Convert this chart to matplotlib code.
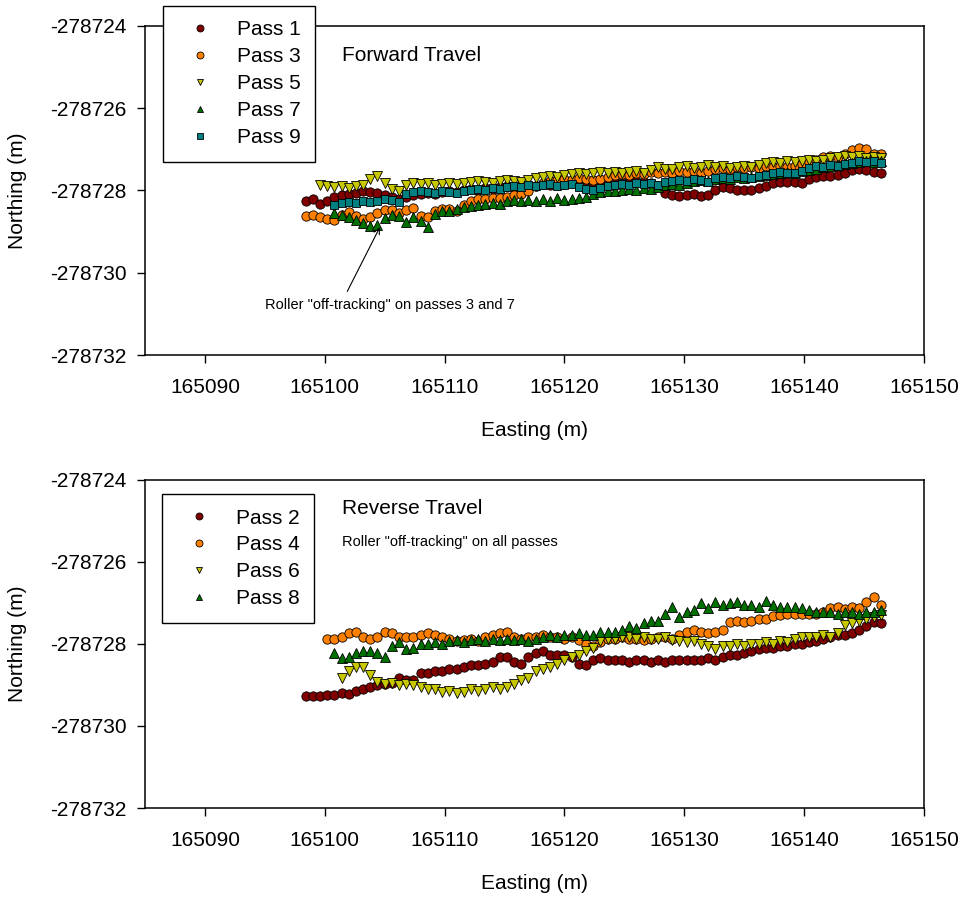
import numpy as np
import matplotlib.pyplot as plt
from matplotlib.ticker import FormatStrFormatter

plt.rcParams['font.family'] = ['Liberation Sans', 'DejaVu Sans']
plt.rcParams['axes.unicode_minus'] = False

# easting sample positions (m), shared by all passes
east = [165098.4, 165099.0, 165099.6, 165100.2, 165100.8, 165101.4, 165102.0, 165102.6, 165103.2, 165103.8,
        165104.4, 165105.0, 165105.6, 165106.2, 165106.8, 165107.4, 165108.0, 165108.6, 165109.2, 165109.8,
        165110.4, 165111.0, 165111.6, 165112.2, 165112.8, 165113.4, 165114.0, 165114.6, 165115.2, 165115.8,
        165116.4, 165117.0, 165117.6, 165118.2, 165118.8, 165119.4, 165120.0, 165120.6, 165121.2, 165121.8,
        165122.4, 165123.0, 165123.6, 165124.2, 165124.8, 165125.4, 165126.0, 165126.6, 165127.2, 165127.8,
        165128.4, 165129.0, 165129.6, 165130.2, 165130.8, 165131.4, 165132.0, 165132.6, 165133.2, 165133.8,
        165134.4, 165135.0, 165135.6, 165136.2, 165136.8, 165137.4, 165138.0, 165138.6, 165139.2, 165139.8,
        165140.4, 165141.0, 165141.6, 165142.2, 165142.8, 165143.4, 165144.0, 165144.6, 165145.2, 165145.8,
        165146.4]

# ---- forward travel (northing, m) ----
pass1_start = 0
pass1 = [-278728.26, -278728.21, -278728.33, -278728.26, -278728.16, -278728.11, -278728.09, -278728.06, -278728.01, -278728.04,
         -278728.06, -278728.11, -278728.16, -278728.21, -278728.16, -278728.11, -278728.09, -278728.06, -278728.09, -278728.04,
         -278728.01, -278728.04, -278727.99, -278727.96, -278727.99, -278727.94, -278727.96, -278727.91, -278727.89, -278727.91,
         -278727.89, -278727.87, -278727.89, -278727.84, -278727.87, -278727.82, -278727.84, -278727.82, -278727.87, -278727.89,
         -278727.87, -278727.84, -278727.82, -278727.79, -278727.82, -278727.79, -278727.77, -278727.79, -278727.82, -278727.89,
         -278728.06, -278728.11, -278728.13, -278728.11, -278728.09, -278728.13, -278728.11, -278727.99, -278727.91, -278727.94,
         -278727.99, -278727.99, -278727.99, -278727.94, -278727.89, -278727.82, -278727.79, -278727.79, -278727.79, -278727.82,
         -278727.72, -278727.67, -278727.65, -278727.65, -278727.62, -278727.57, -278727.50, -278727.47, -278727.50, -278727.55,
         -278727.57]

pass3_start = 0
pass3 = [-278728.62, -278728.60, -278728.65, -278728.70, -278728.72, -278728.60, -278728.53, -278728.62, -278728.70, -278728.65,
         -278728.55, -278728.48, -278728.48, -278728.55, -278728.48, -278728.43, -278728.62, -278728.65, -278728.50, -278728.45,
         -278728.45, -278728.50, -278728.35, -278728.26, -278728.21, -278728.21, -278728.18, -278728.18, -278728.16, -278728.11,
         -278728.09, -278728.01, -278727.89, -278727.82, -278727.77, -278727.74, -278727.72, -278727.74, -278727.70, -278727.72,
         -278727.74, -278727.72, -278727.67, -278727.62, -278727.60, -278727.62, -278727.57, -278727.60, -278727.55, -278727.57,
         -278727.55, -278727.57, -278727.52, -278727.55, -278727.52, -278727.57, -278727.52, -278727.47, -278727.45, -278727.47,
         -278727.43, -278727.45, -278727.43, -278727.45, -278727.40, -278727.43, -278727.40, -278727.43, -278727.40, -278727.35,
         -278727.30, -278727.25, -278727.18, -278727.16, -278727.18, -278727.11, -278727.01, -278726.96, -278726.99, -278727.11,
         -278727.11]

pass5_start = 2
pass5 = [-278727.87, -278727.89, -278727.91, -278727.89, -278727.94, -278727.89, -278727.87, -278727.72, -278727.65, -278727.82,
         -278727.96, -278728.01, -278727.87, -278727.82, -278727.84, -278727.82, -278727.87, -278727.84, -278727.82, -278727.84,
         -278727.82, -278727.79, -278727.77, -278727.79, -278727.82, -278727.77, -278727.74, -278727.77, -278727.79, -278727.74,
         -278727.70, -278727.67, -278727.65, -278727.67, -278727.62, -278727.60, -278727.57, -278727.60, -278727.57, -278727.55,
         -278727.57, -278727.55, -278727.57, -278727.55, -278727.52, -278727.57, -278727.50, -278727.43, -278727.47, -278727.47,
         -278727.43, -278727.40, -278727.45, -278727.43, -278727.38, -278727.43, -278727.40, -278727.45, -278727.43, -278727.40,
         -278727.43, -278727.38, -278727.33, -278727.30, -278727.33, -278727.28, -278727.30, -278727.28, -278727.25, -278727.28,
         -278727.25, -278727.20, -278727.18, -278727.16, -278727.18, -278727.16, -278727.20, -278727.18, -278727.20]

pass7_start = 4
pass7 = [-278728.55, -278728.60, -278728.65, -278728.72, -278728.80, -278728.87, -278728.84, -278728.67, -278728.60, -278728.62,
         -278728.77, -278728.65, -278728.75, -278728.89, -278728.57, -278728.50, -278728.50, -278728.45, -278728.40, -278728.38,
         -278728.35, -278728.33, -278728.30, -278728.33, -278728.26, -278728.23, -278728.26, -278728.23, -278728.26, -278728.21,
         -278728.26, -278728.18, -278728.23, -278728.21, -278728.18, -278728.16, -278728.09, -278728.04, -278728.01, -278728.01,
         -278727.99, -278727.96, -278727.99, -278727.94, -278727.96, -278727.91, -278727.87, -278727.84, -278727.87, -278727.82,
         -278727.77, -278727.74, -278727.77, -278727.72, -278727.70, -278727.72, -278727.67, -278727.70, -278727.67, -278727.65,
         -278727.62, -278727.60, -278727.57, -278727.55, -278727.57, -278727.52, -278727.50, -278727.47, -278727.43, -278727.40,
         -278727.38, -278727.35, -278727.33, -278727.30, -278727.28, -278727.30, -278727.28]

pass9_start = 4
pass9 = [-278728.35, -278728.30, -278728.28, -278728.30, -278728.26, -278728.28, -278728.26, -278728.21, -278728.23, -278728.28,
         -278728.09, -278728.04, -278728.01, -278728.04, -278728.06, -278728.01, -278728.04, -278728.06, -278728.01, -278727.99,
         -278727.96, -278727.99, -278727.94, -278727.96, -278727.91, -278727.89, -278727.91, -278727.87, -278727.89, -278727.87,
         -278727.84, -278727.89, -278727.87, -278727.84, -278727.91, -278727.96, -278727.99, -278727.94, -278727.89, -278727.87,
         -278727.84, -278727.87, -278727.82, -278727.84, -278727.82, -278727.87, -278727.79, -278727.77, -278727.74, -278727.77,
         -278727.72, -278727.74, -278727.79, -278727.70, -278727.67, -278727.70, -278727.65, -278727.67, -278727.70, -278727.65,
         -278727.62, -278727.57, -278727.55, -278727.57, -278727.57, -278727.52, -278727.45, -278727.40, -278727.43, -278727.38,
         -278727.40, -278727.35, -278727.33, -278727.28, -278727.30, -278727.28, -278727.33]

# ---- reverse travel (northing, m) ----
pass2_start = 0
pass2 = [-278729.28, -278729.26, -278729.26, -278729.24, -278729.24, -278729.19, -278729.21, -278729.14, -278729.09, -278729.06,
         -278729.01, -278728.97, -278728.94, -278728.82, -278728.87, -278728.87, -278728.70, -278728.70, -278728.67, -278728.65,
         -278728.62, -278728.60, -278728.57, -278728.52, -278728.52, -278728.48, -278728.45, -278728.33, -278728.31, -278728.43,
         -278728.48, -278728.31, -278728.23, -278728.18, -278728.26, -278728.28, -278728.26, -278728.33, -278728.48, -278728.52,
         -278728.38, -278728.35, -278728.38, -278728.40, -278728.38, -278728.43, -278728.40, -278728.38, -278728.43, -278728.40,
         -278728.43, -278728.40, -278728.38, -278728.40, -278728.38, -278728.40, -278728.35, -278728.38, -278728.33, -278728.28,
         -278728.26, -278728.23, -278728.18, -278728.13, -278728.11, -278728.09, -278728.04, -278728.06, -278728.01, -278727.99,
         -278727.96, -278727.94, -278727.89, -278727.82, -278727.79, -278727.77, -278727.74, -278727.65, -278727.57, -278727.47,
         -278727.50]

pass4_start = 3
pass4 = [-278727.89, -278727.87, -278727.82, -278727.74, -278727.72, -278727.84, -278727.89, -278727.84, -278727.72, -278727.74,
         -278727.82, -278727.84, -278727.84, -278727.79, -278727.74, -278727.79, -278727.84, -278727.89, -278727.94, -278727.91,
         -278727.89, -278727.94, -278727.84, -278727.79, -278727.74, -278727.72, -278727.82, -278727.87, -278727.82, -278727.84,
         -278727.79, -278727.84, -278727.82, -278727.87, -278727.84, -278727.91, -278728.01, -278728.04, -278727.96, -278727.89,
         -278727.87, -278727.84, -278727.89, -278727.87, -278727.91, -278727.89, -278727.84, -278727.82, -278727.87, -278727.79,
         -278727.72, -278727.67, -278727.70, -278727.74, -278727.72, -278727.65, -278727.47, -278727.45, -278727.47, -278727.43,
         -278727.40, -278727.38, -278727.33, -278727.30, -278727.28, -278727.26, -278727.26, -278727.28, -278727.26, -278727.21,
         -278727.13, -278727.11, -278727.16, -278727.11, -278727.13, -278726.98, -278726.86, -278727.06]

pass6_start = 5
pass6 = [-278728.82, -278728.67, -278728.57, -278728.55, -278728.75, -278728.92, -278728.97, -278728.94, -278728.99, -278728.97,
         -278729.01, -278729.06, -278729.09, -278729.11, -278729.16, -278729.14, -278729.19, -278729.16, -278729.11, -278729.14,
         -278729.09, -278729.06, -278729.11, -278729.04, -278728.97, -278728.87, -278728.82, -278728.67, -278728.60, -278728.55,
         -278728.48, -278728.40, -278728.31, -278728.26, -278728.18, -278728.09, -278727.94, -278727.89, -278727.87, -278727.84,
         -278727.82, -278727.87, -278727.84, -278727.89, -278727.87, -278727.84, -278727.91, -278727.94, -278727.96, -278727.94,
         -278727.99, -278728.04, -278728.13, -278728.04, -278728.04, -278728.01, -278728.04, -278727.99, -278728.01, -278727.96,
         -278727.99, -278727.94, -278727.96, -278727.87, -278727.84, -278727.82, -278727.82, -278727.79, -278727.82, -278727.74,
         -278727.55, -278727.50, -278727.45, -278727.40, -278727.35, -278727.30]

pass8_start = 4
pass8 = [-278728.21, -278728.35, -278728.31, -278728.21, -278728.16, -278728.18, -278728.23, -278728.33, -278728.06, -278727.96,
         -278728.13, -278728.09, -278727.99, -278728.01, -278727.96, -278728.01, -278727.94, -278727.91, -278727.96, -278727.91,
         -278727.89, -278727.94, -278727.89, -278727.91, -278727.87, -278727.91, -278727.89, -278727.94, -278727.89, -278727.84,
         -278727.79, -278727.82, -278727.77, -278727.79, -278727.74, -278727.79, -278727.77, -278727.72, -278727.70, -278727.72,
         -278727.65, -278727.57, -278727.60, -278727.50, -278727.45, -278727.43, -278727.26, -278727.11, -278727.35, -278727.21,
         -278727.18, -278727.01, -278727.13, -278726.98, -278727.06, -278727.01, -278726.98, -278727.04, -278727.06, -278727.09,
         -278726.96, -278727.06, -278727.09, -278727.11, -278727.09, -278727.13, -278727.18, -278727.21, -278727.21, -278727.23,
         -278727.26, -278727.23, -278727.21, -278727.26, -278727.21, -278727.23, -278727.18]

x_ticks = [165090, 165100, 165110, 165120, 165130, 165140, 165150]
y_ticks = [-278732, -278730, -278728, -278726, -278724]

maroon = '#800000'
orange = '#ff8000'
olive = '#c8c800'
green = '#007000'
teal = '#008080'

FS = 15


def draw(ax, start, north, marker, color, label, ms=6.7):
    e = east[start:start + len(north)]
    ax.plot(e, north, ls='none', marker=marker, ms=ms, mfc=color,
            mec='black', mew=0.6, label=label)


def style(ax, legend_anchor):
    ax.set_xlim(165085, 165150)
    ax.set_ylim(-278732, -278724)
    ax.set_xticks(x_ticks)
    ax.set_yticks(y_ticks)
    ax.yaxis.set_major_formatter(FormatStrFormatter('%d'))
    ax.xaxis.set_major_formatter(FormatStrFormatter('%d'))
    ax.tick_params(direction='out', length=6, width=1, labelsize=FS, pad=7,
                   top=False, right=False)
    ax.tick_params(axis='x', pad=10.5)
    for s in ax.spines.values():
        s.set_linewidth(1.1)
    ax.set_xlabel('Easting (m)', fontsize=FS, labelpad=17)
    ax.set_ylabel('Northing (m)', fontsize=FS)
    ax.yaxis.set_label_coords(-0.151, 0.5)
    leg = ax.legend(loc='upper left', bbox_to_anchor=legend_anchor, borderaxespad=0,
                    fontsize=FS, markerscale=0.75, fancybox=False, framealpha=1,
                    edgecolor='black', borderpad=0.7, labelspacing=0.38,
                    handlelength=2.15, handletextpad=0.7)
    leg.get_frame().set_linewidth(1.0)


fig = plt.figure(figsize=(9.68, 8.99), dpi=100)

ax1 = fig.add_axes([0.1498, 0.6051, 0.8047, 0.3660])
draw(ax1, pass1_start, pass1, 'o', maroon, 'Pass 1')
draw(ax1, pass3_start, pass3, 'o', orange, 'Pass 3')
draw(ax1, pass5_start, pass5, 'v', olive, 'Pass 5')
draw(ax1, pass7_start, pass7, '^', green, 'Pass 7')
draw(ax1, pass9_start, pass9, 's', teal, 'Pass 9', ms=6.2)
style(ax1, (0.023, 1.061))
ax1.text(165101.4, -278724.85, 'Forward Travel', fontsize=FS, va='baseline')
ax1.annotate('Roller "off-tracking" on passes 3 and 7',
             xy=(165104.6, -278728.89), xytext=(165095.0, -278730.89),
             fontsize=10.5, va='baseline',
             arrowprops=dict(arrowstyle='->', color='black', lw=0.8,
                             shrinkA=0, shrinkB=0, relpos=(0.33, 1.5)))

ax2 = fig.add_axes([0.1498, 0.1012, 0.8047, 0.3650])
draw(ax2, pass2_start, pass2, 'o', maroon, 'Pass 2')
draw(ax2, pass4_start, pass4, 'o', orange, 'Pass 4')
draw(ax2, pass6_start, pass6, 'v', olive, 'Pass 6')
draw(ax2, pass8_start, pass8, '^', green, 'Pass 8')
style(ax2, (0.022, 0.957))
ax2.text(165101.4, -278724.83, 'Reverse Travel', fontsize=FS, va='baseline')
ax2.text(165101.4, -278725.61, 'Roller "off-tracking" on all passes', fontsize=10.5, va='baseline')

fig.savefig('out.png', dpi=100)
